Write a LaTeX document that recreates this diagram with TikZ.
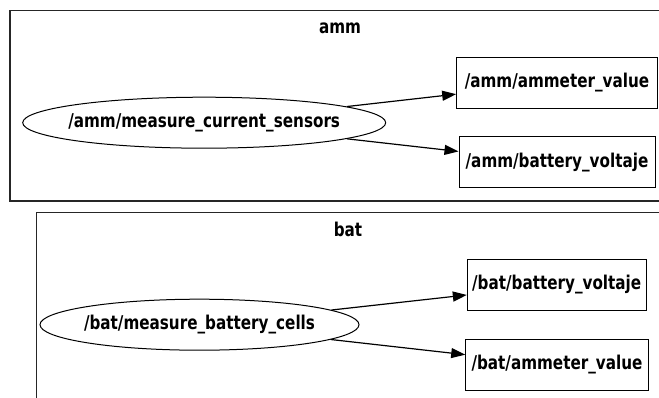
\documentclass[tikz,border=0pt]{standalone}
\usepackage{fontspec}
\newfontfamily\labelfont{DejaVu Sans Bold}[FakeStretch=0.8]
\usetikzlibrary{shapes.geometric,arrows.meta}
\tikzset{
  labeltext/.style={font=\labelfont\fontsize{19}{22}\selectfont, inner sep=0pt},
  cluster/.style={draw=black!85, line width=1.1pt},
  clusterlabel/.style={labeltext},
  % the ellipse keeps its set size; its text is laid on as a centred label
  nodeell/.style={draw, ellipse, line width=1pt, inner sep=0pt, minimum height=51pt},
  topicbox/.style={draw, rectangle, line width=1pt, inner sep=0pt,
    minimum height=51pt, labeltext},
  edge/.style={line width=1.2pt, -{Triangle[length=14pt,width=10pt]}}
}
\begin{document}
\begin{tikzpicture}[x=1pt,y=-1pt]
\useasboundingbox (0,0) rectangle (659,398);
\clip (0,0) rectangle (659,398);
% cluster frames, both running past the right edge
\draw[cluster] (700,10.7) -- (10,10.7) -- (10,201) -- (700,201);
\draw[cluster] (700,212.7) -- (36.7,212.7) -- (36.7,420);
\node[clusterlabel] (ammlabel) at (340,28) {amm};
\node[clusterlabel] (batlabel) at (348,229) {bat};
% amm group
\node[nodeell, minimum width=363pt, label={[labeltext]center:/amm/measure\_current\_sensors}] (ammnode) at (204.2,122.7) {};
\node[topicbox, minimum width=200.6pt] (ammval) at (557,82.8) {/amm/ammeter\_value};
\node[topicbox, minimum width=196pt] (ammvolt) at (557,162.5) {/amm/battery\_voltaje};
\draw[edge] (ammnode) -- (ammval);
\draw[edge] (ammnode) -- (ammvolt);
% bat group
\node[nodeell, minimum width=319pt, label={[labeltext]center:/bat/measure\_battery\_cells}] (batnode) at (199.5,324.7) {};
\node[topicbox, minimum width=178.7pt] (batvolt) at (556.7,285) {/bat/battery\_voltaje};
\node[topicbox, minimum width=182.6pt] (batval) at (557,365) {/bat/ammeter\_value};
\draw[edge] (batnode) -- (batvolt);
\draw[edge] (batnode) -- (batval);
\end{tikzpicture}
\end{document}
